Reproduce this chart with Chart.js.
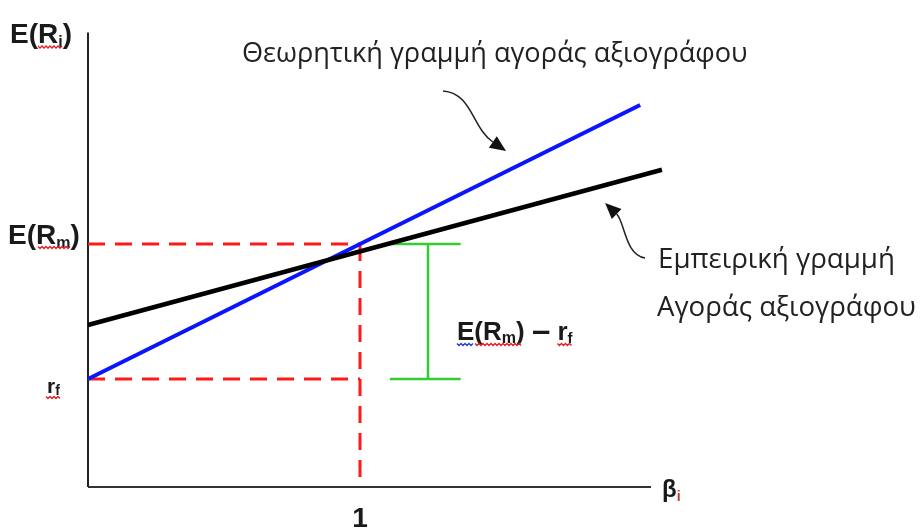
<!DOCTYPE html>
<html>
<head>
<meta charset="utf-8">
<script src="https://cdn.jsdelivr.net/npm/chart.js@4.4.1/dist/chart.umd.min.js"></script>
<style>
  html, body { margin: 0; padding: 0; background: #fff; }
  #wrap { width: 920px; height: 530px; }
</style>
</head>
<body>
<div id="wrap"><canvas id="chart" width="920" height="530"></canvas></div>
<script>
// Security market line: theoretical vs empirical (beta on x, expected return on y)

const riskFree = 2.4;          // r_f
const marketReturn = 5.4;      // E(R_m)
const marketBeta = 1;

const theoryBeta = [0, 2.03];
const theoryReturn = [2.4, 8.49];

const empiricalBeta = [0, 2.11];
const empiricalReturn = [3.6, 7.05];

const axisBetaMax = 2.07;
const axisReturnMax = 10.1;

const premiumBeta = 1.25;           // green bracket
const premiumCap = [1.11, 1.37];

const theoryLabel = 'Θεωρητική γραμμή αγοράς αξιογράφου';
const empiricalLabel = ['Εμπειρική γραμμή', 'Αγοράς αξιογράφου'];

// curved arrows, as [start, cp1, cp2, tip] in (beta, return)
const theoryArrow = [[1.305, 8.80], [1.412, 8.756], [1.412, 7.98], [1.537, 7.467]];
const empiricalArrow = [[2.048, 5.089], [1.974, 5.156], [1.974, 5.889], [1.901, 6.311]];

const pts = (xs, ys) => xs.map((x, i) => ({ x: x, y: ys[i] }));

function seg(data, color, width, dash, order) {
  return {
    data: data, showLine: true, borderColor: color, borderWidth: width,
    borderDash: dash || [], pointRadius: 0, clip: false, order: order,
    borderCapStyle: 'butt'
  };
}

const FONT = '"Liberation Sans", Arial, sans-serif';
const TEXT_FONT = '"Open Sans", "Liberation Sans", sans-serif';

// draws text pieces one after another; each piece [text, size, bold, dy, color]
function rich(ctx, x, y, parts) {
  const spans = [];
  parts.forEach(p => {
    ctx.font = (p[2] ? 'bold ' : '') + p[1] + 'px ' + FONT;
    ctx.fillStyle = p[4] || '#1a1a1a';
    ctx.fillText(p[0], x, y + (p[3] || 0));
    const w = ctx.measureText(p[0]).width;
    spans.push([x, x + w]);
    x += w;
  });
  return spans;
}

// plain text stretched to the width it has in the original figure
function fitText(ctx, text, x, y, width) {
  ctx.font = '20px ' + TEXT_FONT;
  const size = 20 * width / ctx.measureText(text).width;
  ctx.font = size.toFixed(2) + 'px ' + TEXT_FONT;
  ctx.fillText(text, x, y);
}

// little spell-check squiggle
function squiggle(ctx, x1, x2, y, color) {
  ctx.save();
  ctx.strokeStyle = color;
  ctx.lineWidth = 1.3;
  ctx.beginPath();
  for (let x = x1, k = 0; x <= x2; x += 2, k++) {
    const yy = y + (k % 2 ? 1.5 : -0.5);
    if (k === 0) ctx.moveTo(x, yy); else ctx.lineTo(x, yy);
  }
  ctx.stroke();
  ctx.restore();
}

function arrow(ctx, xs, ys, a) {
  const p = a.map(q => [xs.getPixelForValue(q[0]), ys.getPixelForValue(q[1])]);
  const tip = p[3];
  const ang = Math.atan2(tip[1] - p[2][1], tip[0] - p[2][0]);
  const L = 16, W = 7;
  const bx = tip[0] - L * Math.cos(ang), by = tip[1] - L * Math.sin(ang);
  ctx.save();
  ctx.strokeStyle = '#222';
  ctx.lineWidth = 1.5;
  ctx.beginPath();
  ctx.moveTo(p[0][0], p[0][1]);
  ctx.bezierCurveTo(p[1][0], p[1][1], p[2][0], p[2][1], bx, by);
  ctx.stroke();
  ctx.fillStyle = '#111';
  ctx.beginPath();
  ctx.moveTo(tip[0], tip[1]);
  ctx.lineTo(bx + W * Math.sin(ang), by - W * Math.cos(ang));
  ctx.lineTo(bx - W * Math.sin(ang), by + W * Math.cos(ang));
  ctx.closePath();
  ctx.fill();
  ctx.restore();
}

const labelsPlugin = {
  id: 'labels',
  afterDatasetsDraw(chart) {
    const ctx = chart.ctx;
    const xs = chart.scales.x, ys = chart.scales.y;
    const x0 = xs.getPixelForValue(0);
    ctx.save();
    ctx.textBaseline = 'alphabetic';

    // y axis title
    let s = rich(ctx, x0 - 78, ys.getPixelForValue(axisReturnMax) + 10, [
      ['E(R', 28, true], ['i', 16, true, 4], [')', 28, true]
    ]);
    squiggle(ctx, s[0][0] + 28, s[1][1], ys.getPixelForValue(axisReturnMax) + 14, '#e02020');

    // E(Rm) tick
    const yM = ys.getPixelForValue(marketReturn);
    s = rich(ctx, x0 - 80, yM, [['E(R', 28, true], ['m', 16, true, 4], [')', 28, true]]);
    squiggle(ctx, s[0][0] + 30, s[1][1], yM + 3, '#e02020');

    // rf tick
    const yF = ys.getPixelForValue(riskFree);
    s = rich(ctx, x0 - 41, yF + 14, [['r', 21, true], ['f', 14, true, 2]]);
    squiggle(ctx, s[0][0] - 1, s[1][1] + 2, yF + 18, '#e02020');

    // beta = 1 tick
    ctx.font = 'bold 28px ' + FONT;
    ctx.fillStyle = '#1a1a1a';
    ctx.textAlign = 'center';
    ctx.fillText('1', xs.getPixelForValue(marketBeta), ys.getPixelForValue(0) + 40);
    ctx.textAlign = 'left';

    // x axis title
    rich(ctx, xs.getPixelForValue(axisBetaMax) + 11, ys.getPixelForValue(0) + 10, [
      ['β', 24, true], ['i', 14, true, 4, '#c0392b']
    ]);

    // line labels
    ctx.fillStyle = '#222';
    fitText(ctx, theoryLabel, 242, 62, 506);
    fitText(ctx, empiricalLabel[0], 658, 268, 237);
    fitText(ctx, empiricalLabel[1], 657, 316, 259);

    // premium label
    s = rich(ctx, xs.getPixelForValue(premiumBeta) + 29, 340, [
      ['E(R', 26, true], ['m', 16, true, 3], [') ', 26, true], ['\u2013', 33, true, 1], [' ', 26, true],
      ['r', 26, true], ['f', 15, true, 3]
    ]);
    squiggle(ctx, s[0][0], s[0][0] + 16, 344, '#1f3fe0');
    squiggle(ctx, s[0][0] + 18, s[1][1] + 6, 344, '#e02020');
    squiggle(ctx, s[5][0], s[6][1], 344, '#e02020');

    arrow(ctx, xs, ys, theoryArrow);
    arrow(ctx, xs, ys, empiricalArrow);
    ctx.restore();
  }
};

new Chart(document.getElementById('chart'), {
  type: 'scatter',
  data: {
    datasets: [
      seg(pts([0, 0], [0, axisReturnMax]), '#222', 2, null, 6),
      seg(pts([0, axisBetaMax], [0, 0]), '#333', 2, null, 6),
      seg(pts([0, marketBeta], [marketReturn, marketReturn]), '#ff1a1a', 3, [17, 10], 5),
      seg(pts([0, marketBeta], [riskFree, riskFree]), '#ff1a1a', 3, [17, 10], 5),
      seg(pts([marketBeta, marketBeta], [marketReturn, 0]), '#ff1a1a', 3, [17, 10], 5),
      seg(pts([premiumBeta, premiumBeta], [marketReturn, riskFree]), '#33cc33', 2.5, null, 4),
      seg(pts(premiumCap, [marketReturn, marketReturn]), '#33cc33', 2.5, null, 4),
      seg(pts(premiumCap, [riskFree, riskFree]), '#33cc33', 2.5, null, 4),
      seg(pts(theoryBeta, theoryReturn), '#0a14ff', 4, null, 2),
      seg(pts(empiricalBeta, empiricalReturn), '#000', 4.5, null, 1)
    ]
  },
  options: {
    responsive: false,
    animation: false,
    layout: { padding: { left: 88, right: 233.6, top: 37, bottom: 43 } },
    plugins: { legend: { display: false }, tooltip: { enabled: false } },
    scales: {
      x: { type: 'linear', min: 0, max: 2.2, display: false },
      y: { type: 'linear', min: 0, max: 10, display: false }
    }
  },
  plugins: [labelsPlugin]
});
</script>
</body>
</html>
